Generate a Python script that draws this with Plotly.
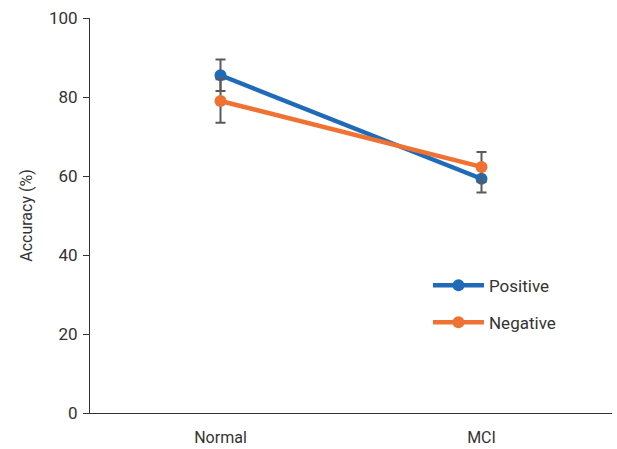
import plotly.graph_objects as go

categories = ["Normal", "MCI"]
positive = [85.5, 59.3]
positive_err = [4.0, 3.5]
negative = [79.0, 62.3]
negative_err = [5.5, 3.8]
y_ticks = [0, 20, 40, 60, 80, 100]

FONT = "Roboto"
fig = go.Figure()
for name, vals, errs, color, grp in [
    ("Positive", positive, positive_err, "#1f6bb8", "a"),
    ("Negative", negative, negative_err, "#f07232", "b"),
]:
    fig.add_trace(go.Scatter(
        x=categories, y=vals, name=name, mode="lines+markers",
        legendgroup=grp,
        line=dict(color=color, width=4.5),
        marker=dict(color=color, size=12),
        error_y=dict(type="data", array=errs, visible=True,
                     color="#5a5a5a", thickness=2, width=5),
    ))

fig.update_layout(
    width=617, height=449,
    margin=dict(l=90, r=5, t=18, b=36),
    paper_bgcolor="white", plot_bgcolor="white",
    font=dict(family=FONT, size=16, color="#333333"),
    legend=dict(x=0.6475, y=0.368, xanchor="left", yanchor="top",
                font=dict(size=17, color="#333333"),
                itemwidth=51,
                tracegroupgap=12, bgcolor="rgba(0,0,0,0)"),
    xaxis=dict(range=[-0.5, 1.5], showline=True, linecolor="#333333",
               linewidth=1, ticks="", showgrid=False, zeroline=False,
               tickfont=dict(size=16), ticklabelstandoff=10, automargin=False),
    yaxis=dict(range=[0, 100], tickvals=y_ticks, showline=True,
               linecolor="#333333", linewidth=1, ticks="outside",
               ticklen=6, tickcolor="#333333", showgrid=False,
               zeroline=False, tickfont=dict(size=17), ticklabelstandoff=2,
               automargin=False,
               title=dict(text="Accuracy (%)", font=dict(size=16), standoff=12)),
)

fig.write_html("out.html")
